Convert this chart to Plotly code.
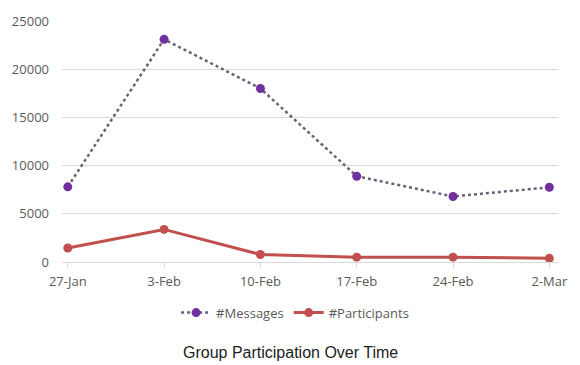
import plotly.graph_objects as go

categories = ["27-Jan", "3-Feb", "10-Feb", "17-Feb", "24-Feb", "2-Mar"]
messages = [7800, 23100, 18000, 8900, 6800, 7750]
participants = [1450, 3380, 780, 500, 500, 380]

x = list(range(len(categories)))

fig = go.Figure()
fig.add_trace(go.Scatter(
    x=x, y=messages, name="#Messages", mode="lines+markers",
    line=dict(color="#6a6278", width=2.5, dash="dot"),
    marker=dict(color="#7030A0", size=9),
))
fig.add_trace(go.Scatter(
    x=x, y=participants, name="#Participants", mode="lines+markers",
    line=dict(color="#C0504D", width=3),
    marker=dict(color="#C0504D", size=9),
))

fig.update_layout(
    width=580, height=365,
    margin=dict(l=62, r=15, t=13, b=103),
    paper_bgcolor="white", plot_bgcolor="white",
    font=dict(family="Open Sans, Liberation Sans, sans-serif", color="#595959", size=13),
    showlegend=True,
    legend=dict(orientation="h", x=0.47, xanchor="center", y=-0.148, yanchor="top",
                font=dict(size=13, color="#595959")),
    xaxis=dict(
        range=[-0.06, 5.09], tickvals=x, ticktext=categories,
        showgrid=False, zeroline=False, showline=False,
        ticks="outside", ticklen=5, tickcolor="#d9d9d9",
        ticklabelstandoff=2,
        tickfont=dict(size=13, color="#595959"),
    ),
    yaxis=dict(
        range=[0, 25000], dtick=5000, tickformat="d",
        showgrid=True, gridcolor="#d9d9d9",
        gridwidth=1, zeroline=True, zerolinecolor="#d9d9d9", zerolinewidth=1,
        showline=False, ticks="", ticklabelstandoff=12,
        tickfont=dict(size=13, color="#595959"),
    ),
    annotations=[dict(
        text="Group Participation Over Time", xref="paper", yref="paper",
        x=0.46, y=-0.375, xanchor="center", yanchor="middle", showarrow=False,
        font=dict(size=16, color="#222222", family="Liberation Sans, Arial, sans-serif"),
    )],
)

fig.write_html("out.html")
